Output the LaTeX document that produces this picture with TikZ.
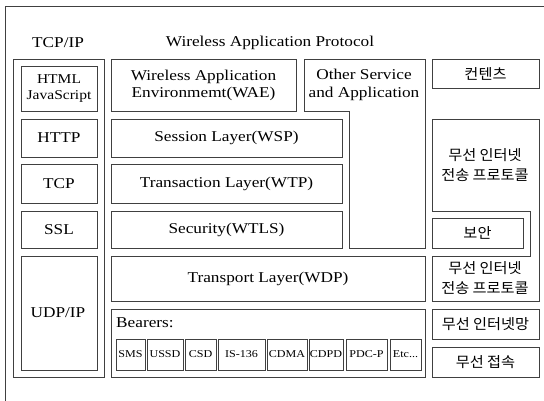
\documentclass[tikz,border=0pt]{standalone}
\usepackage{fontspec}
\setmainfont[FakeStretch=1.15]{Liberation Serif}
\newfontfamily\kr[FakeStretch=1.05]{Noto Sans CJK KR}
\begin{document}
\begin{tikzpicture}[x=1pt,y=-1pt,
  line/.style={draw=black!75,line width=0.9pt},
  box/.style={line,rectangle,inner sep=0pt,outer sep=0pt,align=center,font=\fontsize{15}{17}\selectfont},
  krbox/.style={box,font=\kr\fontsize{14.5}{20}\selectfont},
  small/.style={box,font=\fontsize{10.5}{11}\selectfont},
  lbl/.style={inner sep=0pt,align=center,font=\fontsize{15}{17.5}\selectfont},
  krlbl/.style={inner sep=0pt,align=center,font=\kr\fontsize{14.5}{20.5}\selectfont}]
\useasboundingbox (0,0) rectangle (544,401);
\newcommand\bx[7][box]{\node[#1,minimum width={(#5-#3)*1pt},minimum height={(#6-#4)*1pt}] (#2) at ({(#3+#5)/2},{(#4+#6)/2}) {#7};}
% outer frame (top and left only)
\coordinate (ftl) at (5,6);
\coordinate (ftr) at (544,6);
\coordinate (fbl) at (5,401);
\draw[line] (ftr) -- (ftl) -- (fbl);
% titles
\node[lbl] (ttcp) at (58,43) {TCP/IP};
\node[lbl] (twap) at (270,43) {Wireless Application Protocol};
% TCP/IP column
\bx{tcpcol}{13}{59}{104}{377}{}
\bx[box,font=\fontsize{13.5}{16}\selectfont]{html}{21}{66}{97}{111}{HTML\\JavaScript}
\bx{http}{21}{119}{97}{157}{HTTP}
\bx{tcp}{21}{164}{97}{203}{TCP}
\bx{ssl}{21}{211}{97}{248}{SSL}
\bx{udp}{21}{256}{97}{370}{}
\node[lbl] (udpt) at (58,313) {UDP/IP};
% WAP column
\bx{wae}{111}{59}{296}{111}{Wireless Application\\Environmemt(WAE)}
\bx{wsp}{111}{119}{342}{157}{Session Layer(WSP)}
\bx{wtp}{111}{164}{342}{203}{Transaction Layer(WTP)}
\bx{wtls}{111}{211}{342}{248}{Security(WTLS)}
\bx{wdp}{111}{256}{425}{301}{Transport Layer(WDP)}
\bx{bear}{111}{309}{425}{377}{}
\node[lbl,anchor=west] (beart) at (116,323) {Bearers:};
\bx[small]{sms}{116}{339}{145}{370}{SMS}
\bx[small]{ussd}{147}{339}{183}{370}{USSD}
\bx[small]{csd}{185}{339}{216}{370}{CSD}
\bx[small]{is}{218}{339}{265}{370}{IS-136}
\bx[small]{cdma}{267}{339}{307}{370}{CDMA}
\bx[small]{cdpd}{309}{339}{343}{370}{CDPD}
\bx[small]{pdc}{346}{339}{387}{370}{PDC-P}
\bx[small]{etc}{390}{339}{421}{370}{Etc...}
% Other service L-shape
\draw[line] (304,59) -- (425,59) -- (425,248) -- (349,248) -- (349,111) -- (304,111) -- cycle;
\node[lbl] (other) at (364,85) {Other Service\\and Application};
% right column
\bx[krbox]{content}{432}{59}{539}{88}{컨텐츠}
\draw[line] (432,119) -- (539,119) -- (539,301) -- (432,301) -- (432,256) -- (530,256) -- (530,211) -- (432,211) -- cycle;
\node[krlbl] (proto1) at (485,165) {무선 인터넷\\전송 프로토콜};
\bx[krbox]{sec}{432}{218}{523}{248}{보안}
\node[krlbl] (proto2) at (485,278) {무선 인터넷\\전송 프로토콜};
\bx[krbox]{net}{432}{309}{539}{339}{무선 인터넷망}
\bx[krbox]{acc}{432}{347}{539}{377}{무선 접속}
\end{tikzpicture}
\end{document}
